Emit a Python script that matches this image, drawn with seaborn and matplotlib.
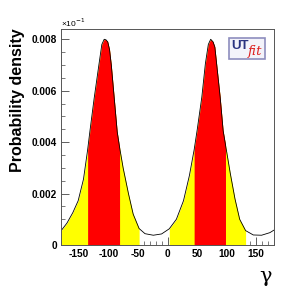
import numpy as np
import pandas as pd
import matplotlib
matplotlib.use("Agg")
import matplotlib.pyplot as plt
from matplotlib.patches import Rectangle
import seaborn as sns

# Data
gamma = [-180, -170, -160, -151, -142, -135, -131, -124, -116, -111, -107, -104,
         -101, -98, -95, -90, -85, -81, -75, -66, -58, -48, -38, -24, -10,
         3, 15, 27, 37, 45, 50, 58, 64, 69, 73, 77, 80, 83, 89, 94, 98, 106,
         114, 122, 132, 145, 159, 173, 180]
density = [0.00055, 0.00085, 0.00126, 0.00172, 0.00256, 0.0037, 0.00445,
           0.0057, 0.0070, 0.0078, 0.0080, 0.00798, 0.0079, 0.0076, 0.0070,
           0.0057, 0.0044, 0.0038, 0.0030, 0.0020, 0.0012, 0.00064, 0.00044,
           0.00038, 0.00043,
           0.00063, 0.0010, 0.00172, 0.0027, 0.0037, 0.00445, 0.00575,
           0.00705, 0.0078, 0.0080, 0.0079, 0.0077, 0.00705, 0.00575, 0.00445,
           0.0039, 0.0028, 0.0018, 0.0010, 0.00056, 0.00039, 0.00038, 0.00048,
           0.00058]
yellow_bands = [(-180, -48), (3, 132)]
red_bands = [(-135, -81), (45, 98)]
yticks = [0, 0.002, 0.004, 0.006, 0.008]
ytick_labels = ["0", "0.002", "0.004", "0.006", "0.008"]
xticks = [-150, -100, -50, 0, 50, 100, 150]
xtick_labels = ["-150", "-100", "-50", "0", "50", "100", "150"]

df = pd.DataFrame({"gamma": gamma, "density": density})

sns.set_style("white")
plt.rcParams["font.family"] = ["Liberation Sans", "DejaVu Sans"]
plt.rcParams["text.color"] = "black"
plt.rcParams["xtick.color"] = "black"
plt.rcParams["ytick.color"] = "black"
plt.rcParams["axes.labelcolor"] = "black"

W, H = 304, 289
fig = plt.figure(figsize=(W / 100, H / 100), dpi=100)
ax = fig.add_axes([61 / W, (H - 245) / H, 213 / W, 216 / H])

g = np.array(gamma)
d = np.array(density)
for lo, hi in yellow_bands:
    m = (g >= lo) & (g <= hi)
    ax.fill_between(g[m], 0, d[m], color="#ffff00", linewidth=0)
for lo, hi in red_bands:
    m = (g >= lo) & (g <= hi)
    ax.fill_between(g[m], 0, d[m], color="#ff0000", linewidth=0)

sns.lineplot(data=df, x="gamma", y="density", ax=ax, color="black",
             linewidth=0.6, legend=False)

ax.set_xlim(-180, 180)
ax.set_ylim(0, 0.0084)
ax.set_xticks(xticks)
ax.set_xticklabels(xtick_labels, fontweight="bold", fontsize=7.3, color="black")
ax.set_yticks(yticks)
ax.set_yticklabels(ytick_labels, fontweight="bold", fontsize=7.3, color="black")
ax.set_xticks(np.arange(-180, 181, 10), minor=True)
ax.set_yticks(np.arange(0, 0.0084, 0.0005), minor=True)
ax.tick_params(axis="both", which="major", direction="in", length=6,
               width=0.6, color="#444444", pad=3)
ax.tick_params(axis="both", which="minor", direction="in", length=3,
               width=0.5, color="#444444")
ax.tick_params(axis="x", which="both", top=False, bottom=True)
ax.tick_params(axis="y", which="both", right=False, left=True)
for s in ax.spines.values():
    s.set_visible(True)
    s.set_color("#555555")
    s.set_linewidth(0.7)

ax.set_xlabel("")
ax.set_ylabel("")
fig.text(18 / W, 1 - 100 / H, "Probability density", fontweight="bold",
         fontsize=11.5, rotation=90, ha="center", va="center", color="black")
fig.text(266 / W, 1 - 276 / H, "γ", fontsize=15, ha="center", va="center",
         family=["DejaVu Serif"], color="black")
fig.text(61 / W, 1 - 23 / H, "×10$^{-1}$", fontsize=6, ha="left", va="center")

# UTfit logo
fig.add_artist(Rectangle((229 / W, 1 - 59 / H), 36 / W, 21 / H,
                         transform=fig.transFigure, facecolor="#f3f3fa",
                         edgecolor="#8e8ebe", linewidth=1.2))
fig.text(231 / W, 1 - 46 / H, "UT", fontsize=9.5, fontweight="bold",
         color="#2a3480", ha="left", va="center")
fig.text(248 / W, 1 - 51 / H, "fit", fontsize=9.5, fontstyle="italic",
         color="#dd2222", ha="left", va="center", family=["DejaVu Serif"])

fig.savefig("out.png", dpi=100, facecolor="white")
